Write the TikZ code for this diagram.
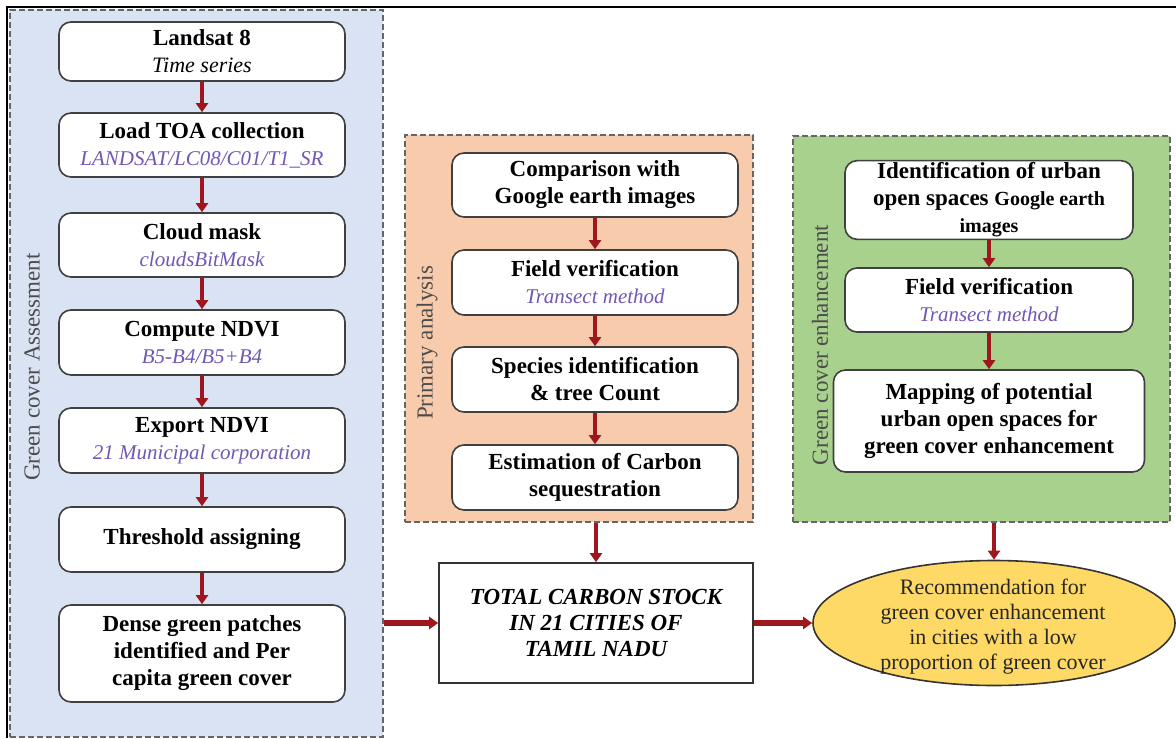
\documentclass[tikz,border=0pt]{standalone}
\usepackage{fontspec}
\setmainfont{Liberation Serif}
\usetikzlibrary{arrows.meta,shapes.geometric}

\definecolor{panelblue}{RGB}{218,227,243}
\definecolor{panelorange}{RGB}{248,203,173}
\definecolor{panelgreen}{RGB}{169,209,142}
\definecolor{ovalyellow}{RGB}{255,217,102}
\definecolor{arrowred}{RGB}{158,22,30}
\definecolor{subpurple}{RGB}{112,88,180}

\newcommand{\subtxt}[1]{{\mdseries\itshape\fontsize{10.5}{12}\selectfont\color{subpurple}#1}}

\tikzset{
  panel/.style={draw=black!60, line width=1.1pt, dash pattern=on 3pt off 1.5pt, inner sep=0pt},
  stepbox/.style={draw=black!75, fill=white, rounded corners=6pt, line width=0.8pt,
    align=center, inner sep=1pt, minimum width=143pt,
    font=\bfseries\fontsize{11.5}{13.5}\selectfont},
  sidelabel/.style={rotate=90, text=black!70, font=\fontsize{11.5}{13}\selectfont},
  flow/.style={draw=arrowred, line width=2pt, -{Triangle[length=4.5pt,width=6pt]}},
  bigflow/.style={flow, line width=2.6pt}
}

\begin{document}
\begin{tikzpicture}[x=0.5pt,y=-0.5pt]
\useasboundingbox (0,0) rectangle (1176,738);

\draw[line width=1.2pt] (7,738) -- (7,7) -- (1176,7);

\node[panel, fill=panelblue, minimum width=186.5pt, minimum height=363.5pt] (blue) at (196.5,373.5) {};
\node[panel, fill=panelorange, minimum width=174pt, minimum height=193.5pt] (orange) at (579,328.5) {};
\node[panel, fill=panelgreen, minimum width=188.5pt, minimum height=193pt] (green) at (981.5,329) {};

\node[sidelabel] (bluelabel) at (32,367) {Green cover Assessment};
\node[sidelabel] (orangelabel) at (427,343) {Primary analysis};
\node[sidelabel] (greenlabel) at (820,345) {Green cover enhancement};

% green cover assessment
\node[stepbox, minimum height=29.5pt] (landsat) at (202,51.5) {Landsat 8\\ {\mdseries\itshape\fontsize{11}{12}\selectfont Time series}};
\node[stepbox, minimum height=32pt] (loadtoa) at (202,145) {Load TOA collection\\ \subtxt{LANDSAT/LC08/C01/T1\_SR}};
\node[stepbox, minimum height=32pt] (cloud) at (202,245) {Cloud mask\\ \subtxt{cloudsBitMask}};
\node[stepbox, minimum height=32.5pt] (ndvi) at (202,342.5) {Compute NDVI\\ \subtxt{B5-B4/B5+B4}};
\node[stepbox, minimum height=32.5pt] (export) at (202,440.5) {Export NDVI\\ \subtxt{21 Municipal corporation}};
\node[stepbox, minimum height=32.5pt] (thresh) at (202,539.5) {Threshold assigning};
\node[stepbox, minimum height=48.5pt] (dense) at (202,653.5) {Dense green patches\\ identified and Per\\ capita green cover};

% primary analysis
\node[stepbox, minimum height=32pt] (compare) at (595,185) {Comparison with\\ Google earth images};
\node[stepbox, minimum height=32.5pt] (fieldp) at (595,282.5) {Field verification\\ \subtxt{Transect method}};
\node[stepbox, minimum height=32.5pt] (species) at (595,379.5) {Species identification\\ \& tree Count};
\node[stepbox, minimum height=32.5pt] (estim) at (595,477.5) {Estimation of Carbon\\ sequestration};

% green cover enhancement
\node[stepbox, minimum width=144pt, minimum height=37pt] (ident) at (989,200) {Identification of urban\\ open spaces {\fontsize{10}{12}\selectfont Google earth}\\ {\fontsize{10}{11}\selectfont images}};
\node[stepbox, minimum width=144pt, minimum height=32pt] (fieldg) at (989,300) {Field verification\\ \subtxt{Transect method}};
\node[stepbox, minimum width=155.5pt, minimum height=51pt] (mapping) at (989,421) {Mapping of potential\\ urban open spaces for\\ green cover enhancement};

\node[draw=black!80, fill=white, line width=0.8pt, minimum width=157pt, minimum height=60pt,
  align=center, font=\bfseries\itshape\fontsize{11.5}{13}\selectfont] (total) at (596,623)
  {TOTAL CARBON STOCK\\ IN 21 CITIES OF\\ TAMIL NADU};

\node[ellipse, draw=black!80, fill=ovalyellow, line width=0.8pt, inner sep=0pt,
  minimum width=181pt, minimum height=62.5pt] (ell) at (994,623) {};
\node[align=center, text=black!85, font=\fontsize{11}{12.5}\selectfont] (elltext) at (993,627)
  {Recommendation for\\ green cover enhancement\\ in cities with a low\\ proportion of green cover};

\foreach \a/\b in {landsat/loadtoa, loadtoa/cloud, cloud/ndvi, ndvi/export, export/thresh, thresh/dense,
  compare/fieldp, fieldp/species, species/estim, ident/fieldg, fieldg/mapping}
  \draw[flow] (\a) -- (\b);

\draw[flow] (orange.south -| total.north) -- (total.north);
\draw[flow] (green.south -| ell.north) -- (ell.north);
\draw[bigflow] (blue.east |- total.west) -- (total.west);
\draw[bigflow] (total.east) -- (ell.west);

\end{tikzpicture}
\end{document}
